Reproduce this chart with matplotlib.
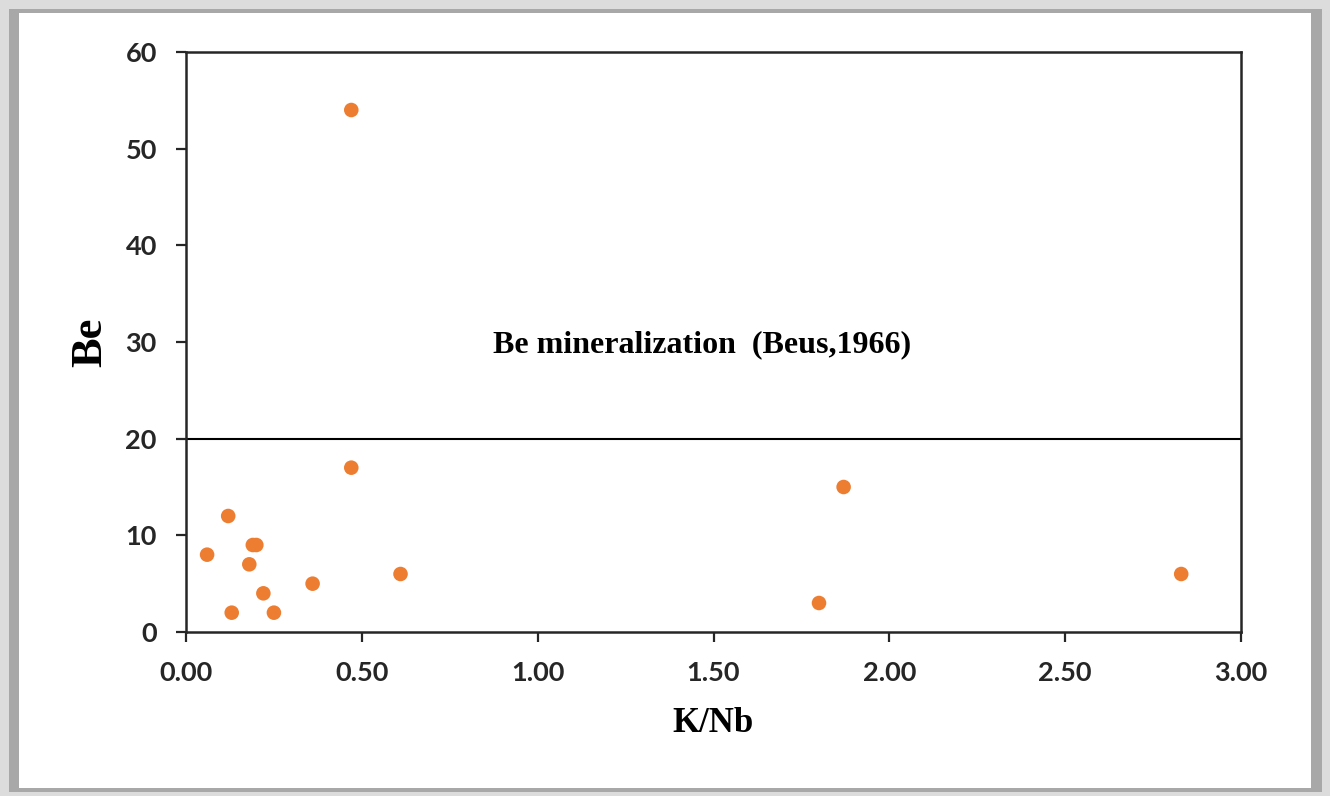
import matplotlib
matplotlib.use("Agg")
import matplotlib.pyplot as plt
from matplotlib.patches import Rectangle

# K/Nb vs Be
k_nb = [0.06, 0.12, 0.13, 0.18, 0.19, 0.20, 0.22, 0.25, 0.36, 0.47, 0.47, 0.61, 1.80, 1.87, 2.83]
be = [8, 12, 2, 7, 9, 9, 4, 2, 5, 17, 54, 6, 3, 15, 6]

x_ticks = [0.0, 0.5, 1.0, 1.5, 2.0, 2.5, 3.0]
y_ticks = [0, 10, 20, 30, 40, 50, 60]
be_limit = 20

W, H = 1330, 796
fig = plt.figure(figsize=(W/100, H/100), dpi=100)

# grey picture frame
def frame(x0, y0, x1, y1, c, z):
    fig.patches.append(Rectangle((x0/W, 1 - y1/H), (x1 - x0)/W, (y1 - y0)/H,
                                 transform=fig.transFigure, facecolor=c,
                                 edgecolor="none", zorder=z))

frame(0, 0, W, H, "#dcdcdc", -3)
frame(9, 9, 1322, 792, "#a8a8a8", -2)
frame(19, 13, 1311, 788, "white", -1)

ax = fig.add_axes([186/W, 1 - 632/H, (1241 - 186)/W, (632 - 52)/H])
ax.set_facecolor("none")

ax.scatter(k_nb, be, s=110, color="#ED7D31", edgecolors="none", zorder=3)
ax.axhline(be_limit, color="black", lw=1.5)
ax.text(1.467, 28.9, "Be mineralization  (Beus,1966)", family="Liberation Serif",
        fontweight="bold", fontsize=23, ha="center", va="baseline")

ax.set_xlim(0, 3)
ax.set_ylim(0, 60)
ax.set_xticks(x_ticks)
ax.set_yticks(y_ticks)
ax.set_xticklabels([f"{v:.2f}" for v in x_ticks])
ax.set_yticklabels([str(v) for v in y_ticks])
for lab in ax.get_xticklabels() + ax.get_yticklabels():
    lab.set_family("Lato")
    lab.set_fontweight("bold")
    lab.set_fontsize(19.5)
    lab.set_color("#262626")
ax.tick_params(direction="out", length=7, width=1.6, color="#262626")
ax.tick_params(axis="x", pad=14)
ax.tick_params(axis="y", pad=14)
for sp in ax.spines.values():
    sp.set_linewidth(1.8)
    sp.set_color("#262626")

ax.set_xlabel("K/Nb", family="Liberation Serif", fontweight="bold", fontsize=25)
ax.set_ylabel("Be", family="Liberation Serif", fontweight="bold", fontsize=32)
ax.xaxis.set_label_coords(713/(1241 - 186) - 186/(1241 - 186), -(723 - 632)/(632 - 52))
ax.xaxis.label.set_va("center")
ax.yaxis.set_label_coords(-(186 - 90)/(1241 - 186), (632 - 342)/(632 - 52))
ax.yaxis.label.set_va("center")

fig.savefig("out.png", dpi=100)
